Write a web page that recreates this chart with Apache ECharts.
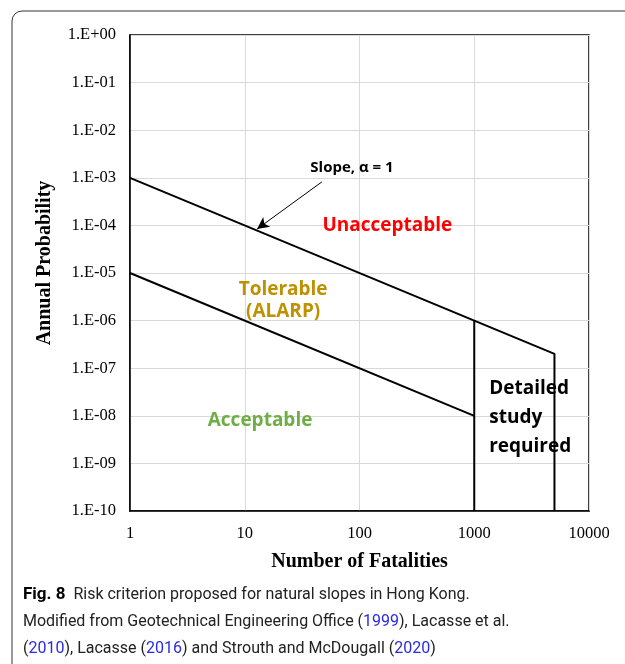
<!DOCTYPE html>
<html>
<head>
<meta charset="utf-8">
<script src="https://cdn.jsdelivr.net/npm/echarts@6/dist/echarts.min.js"></script>
<style>
  html, body { margin: 0; padding: 0; background: #fff; }
  #chart { width: 625px; height: 664px; }
</style>
</head>
<body>
<div id="chart"></div>
<script>
// 坐标轴刻度
const xTicks = [1, 10, 100, 1000, 10000];
const yTickLabels = ['1.E-10', '1.E-09', '1.E-08', '1.E-07', '1.E-06', '1.E-05',
                     '1.E-04', '1.E-03', '1.E-02', '1.E-01', '1.E+00'];

// 边界线 (N, 概率)
const upperLine = [[1, 1e-3], [5000, 2e-7], [5000, 1e-10]];
const lowerLine = [[1, 1e-5], [1000, 1e-8]];
const studyLine = [[1000, 1e-6], [1000, 1e-10]];

// 斜率箭头
const slopeArrow = [[47, 8.2e-4], [12.8, 8.4e-5]];

// 区域标签
const zoneNames = ['Unacceptable', 'Tolerable\n(ALARP)', 'Acceptable', 'Slope, α = 1', 'Detailed\nstudy\nrequired'];
const zonePos = [[175, 1e-4], [21.6, 2.6e-6], [13.6, 7.8e-9], [86, 1.6e-3], [1350, 9e-9]];
const zoneColors = ['#ff0000', '#bf9000', '#70ad47', '#000000', '#000000'];
const zoneSizes = [19, 19, 19, 15, 19];
const zoneLineHeights = [24, 22, 24, 18, 29];
const zoneAlign = ['center', 'center', 'center', 'center', 'left'];

let chart = echarts.init(document.getElementById('chart'));

function lineSeries(data) {
    return {
        type: 'line',
        data: data,
        symbol: 'none',
        silent: true,
        animation: false,
        lineStyle: { color: '#000', width: 2 }
    };
}

let series = [lineSeries(upperLine), lineSeries(lowerLine), lineSeries(studyLine)];

// 箭头
series[0].markLine = {
    silent: true,
    animation: false,
    symbol: ['none', 'arrow'],
    symbolSize: [9, 12],
    label: { show: false },
    lineStyle: { color: '#000', width: 1, type: 'solid' },
    data: [[{ coord: slopeArrow[0] }, { coord: slopeArrow[1] }]]
};

// 文字标签
series.push({
    type: 'scatter',
    symbolSize: 0,
    silent: true,
    animation: false,
    itemStyle: { opacity: 1 },
    data: zoneNames.map((name, i) => ({
        value: zonePos[i],
        label: {
            show: true,
            position: 'inside',
            formatter: name,
            color: zoneColors[i],
            opacity: 1,
            textBorderWidth: 0,
            fontSize: zoneSizes[i],
            fontWeight: 'bold',
            fontFamily: 'Open Sans',
            align: zoneAlign[i],
            lineHeight: zoneLineHeights[i]
        }
    }))
});

const tickFont = { fontFamily: 'Liberation Serif', fontSize: 16.5, color: '#000', margin: 14 };
const nameFont = { fontFamily: 'Liberation Serif', fontWeight: 'bold', fontSize: 20, color: '#000' };

let option = {
    backgroundColor: '#fff',
    animation: false,
    grid: {
        left: 130, right: 36, top: 35, bottom: 153,
        show: true, borderColor: '#000', borderWidth: 1.5
    },
    xAxis: {
        type: 'log',
        logBase: 10,
        min: xTicks[0],
        max: xTicks[xTicks.length - 1],
        interval: 1,
        name: 'Number of Fatalities',
        nameLocation: 'middle',
        nameGap: 41,
        nameTextStyle: nameFont,
        axisLine: { lineStyle: { color: '#000', width: 1.5 } },
        axisTick: { show: false },
        axisLabel: Object.assign({}, tickFont, {
            formatter: v => String(xTicks[Math.round(Math.log10(v))])
        }),
        splitLine: { show: true, lineStyle: { color: '#d9d9d9', width: 1 } },
        minorTick: { show: false }
    },
    yAxis: {
        type: 'log',
        logBase: 10,
        min: 1e-10,
        max: 1,
        interval: 1,
        splitNumber: 10,
        name: 'Annual Probability',
        nameLocation: 'middle',
        nameGap: 75,
        nameTextStyle: Object.assign({}, nameFont, { padding: [0, 0, 0, 20] }),
        axisLine: { lineStyle: { color: '#000', width: 1.5 } },
        axisTick: { show: false },
        axisLabel: Object.assign({}, tickFont, {
            formatter: v => yTickLabels[Math.round(Math.log10(v)) + 10]
        }),
        splitLine: { show: true, lineStyle: { color: '#d9d9d9', width: 1 } }
    },
    graphic: [
        {
            type: 'rect',
            silent: true,
            shape: { x: 12, y: 11, width: 700, height: 700, r: 10 },
            style: { fill: 'none', stroke: '#333', lineWidth: 1 }
        },
        {
            type: 'text',
            left: 23,
            top: 581,
            silent: true,
            style: {
                text: '{b|Fig. 8}  Risk criterion proposed for natural slopes in Hong Kong.\n' +
                      'Modified from Geotechnical Engineering Office ({a|1999}), Lacasse et al.\n' +
                      '({a|2010}), Lacasse ({a|2016}) and Strouth and McDougall ({a|2020})',
                fontFamily: 'Roboto',
                fontSize: 16,
                lineHeight: 27,
                fill: '#222',
                rich: {
                    b: { fontFamily: 'Roboto', fontWeight: 'bold', fontSize: 17, fill: '#000', lineHeight: 27 },
                    a: { fontFamily: 'Roboto', fontSize: 16, fill: '#2a2ae0', lineHeight: 27 }
                }
            }
        }
    ],
    series: series
};

chart.setOption(option);
</script>
</body>
</html>
